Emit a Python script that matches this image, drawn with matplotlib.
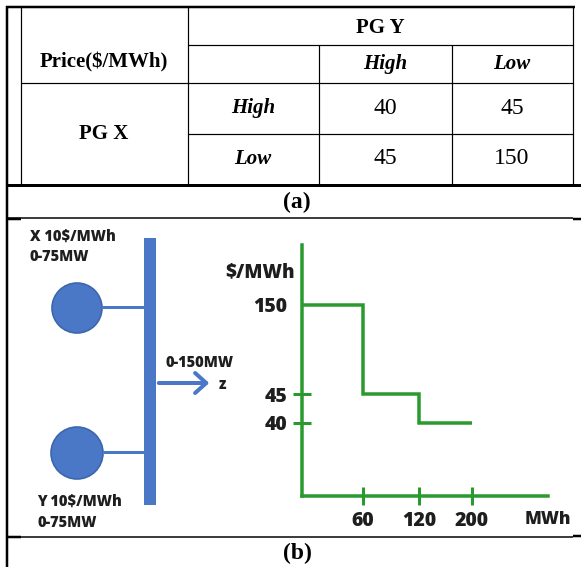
import matplotlib
matplotlib.use('Agg')
import matplotlib.pyplot as plt
import numpy as np
from matplotlib.patches import Circle, Rectangle, FancyArrowPatch

# ---------------- data ----------------
table_title = 'Price($/MWh)'
row_group = 'PG X'
col_group = 'PG Y'
x_levels = ['High', 'Low']          # PG X strategy (rows)
y_levels = ['High', 'Low']          # PG Y strategy (columns)
prices = [[40, 45],
          [45, 150]]

gen_x_label = ['X 10$/MWh', '0-75MW']
gen_y_label = ['Y 10$/MWh', '0-75MW']
load_label = '0-150MW'
load_name = 'z'

supply_edges = [0, 60, 120, 200]     # MWh
supply_prices = [150, 45, 40]        # $/MWh
x_ticks = [60, 120, 200]
y_ticks = [40, 45, 150]

# ---------------- figure ----------------
W, H = 581, 567
fig = plt.figure(figsize=(W / 100, H / 100), dpi=100)
ov = fig.add_axes([0, 0, 1, 1])
ov.set_xlim(0, W)
ov.set_ylim(H, 0)
ov.axis('off')

def pt(p):
    return p * 0.72

def hline(y, x0, x1, w=1.0):
    ov.plot([x0, x1], [y, y], color='black', lw=pt(w), solid_capstyle='butt')

def vline(x, y0, y1, w=1.0):
    ov.plot([x, x], [y0, y1], color='black', lw=pt(w), solid_capstyle='butt')

SERIF = ['Liberation Serif', 'DejaVu Serif']
SANS = ['Open Sans', 'DejaVu Sans']
HEAVY = 800

# table grid
hline(7, 6, 575, 2.5)
vline(7, 6, 567, 2.5)
vline(21, 7, 184, 1.2)
vline(573, 7, 184, 1.2)
vline(188, 7, 184, 1.2)
hline(45, 188, 573, 1.2)
hline(83, 21, 573, 1.2)
hline(134, 188, 573, 1.2)
for xv in (319, 452):
    vline(xv, 45, 184, 1.2)
hline(185, 7, 581, 3)
hline(218, 7, 573, 1.5)
hline(219, 573, 581, 2.5)
hline(219, 7, 21, 2.5)
hline(537, 7, 573, 1.5)
hline(536, 573, 581, 2.5)
hline(537, 7, 21, 2.5)

# table text
ov.text(104, 62, table_title, ha='center', va='center', family=SERIF,
        weight='bold', fontsize=15)
ov.text(380, 28, col_group, ha='center', va='center', family=SERIF,
        weight='bold', fontsize=15)
ov.text(104, 134, row_group, ha='center', va='center', family=SERIF,
        weight='bold', fontsize=15)
col_cx = [385, 512]
row_cy = [108, 159]
for j, lab in enumerate(y_levels):
    ov.text(col_cx[j], 64, lab, ha='center', va='center', family=SERIF,
            weight='bold', style='italic', fontsize=15)
for i, lab in enumerate(x_levels):
    ov.text(253, row_cy[i], lab, ha='center', va='center', family=SERIF,
            weight='bold', style='italic', fontsize=15)
    for j in range(len(y_levels)):
        ov.text(col_cx[j], row_cy[i], str(prices[i][j]), ha='center',
                va='center', family=SERIF, fontsize=17)

ov.text(297, 202, '(a)', ha='center', va='center', family=SERIF,
        weight='bold', fontsize=17)
ov.text(297, 553, '(b)', ha='center', va='center', family=SERIF,
        weight='bold', fontsize=17)

# ---------------- network diagram ----------------
blue = '#4a78c6'
blue_edge = '#3d66ad'
ov.add_patch(Rectangle((144, 238), 12, 267, facecolor=blue, edgecolor='none'))
ov.add_patch(Circle((77, 308), 25, facecolor=blue, edgecolor=blue_edge, lw=1.2))
ov.add_patch(Circle((77, 453), 26, facecolor=blue, edgecolor=blue_edge, lw=1.2))
ov.plot([102, 145], [307, 307], color=blue, lw=pt(3), solid_capstyle='butt')
ov.plot([103, 145], [452, 452], color=blue, lw=pt(3), solid_capstyle='butt')
ov.add_patch(FancyArrowPatch((156, 383), (212, 383), arrowstyle='->,head_length=5,head_width=4.5',
                             color=blue, lw=pt(4), mutation_scale=1.6))

txt = '#1e1e1e'
ov.text(30, 237, gen_x_label[0], ha='left', va='center', family=SANS,
        weight=HEAVY, fontsize=10.5, color=txt)
ov.text(30, 257, gen_x_label[1], ha='left', va='center', family=SANS,
        weight=HEAVY, fontsize=10.5, color=txt)
ov.text(37, 502, gen_y_label[0], ha='left', va='center', family=SANS,
        weight=HEAVY, fontsize=10.5, color=txt)
ov.text(37, 523, gen_y_label[1], ha='left', va='center', family=SANS,
        weight=HEAVY, fontsize=10.5, color=txt)
ov.text(165, 363, load_label, ha='left', va='center', family=SANS,
        weight=HEAVY, fontsize=10.5, color=txt)
ov.text(219, 385, load_name, ha='left', va='center', family=SANS,
        weight=HEAVY, fontsize=10.5, color=txt)

# ---------------- supply step chart ----------------
green = '#2a9a2f'
ax = fig.add_axes([302 / W, 71 / H, 246 / W, 251 / H])
ax.set_facecolor('none')
xp, xf = [0, 60, 120, 200, 320], [0, 61, 117, 170, 246]
yp, yf = [0, 40, 45, 150, 210], [0, 73, 102, 191, 251]
ax.set_xscale('function', functions=(lambda v: np.interp(v, xp, xf),
                                     lambda v: np.interp(v, xf, xp)))
ax.set_yscale('function', functions=(lambda v: np.interp(v, yp, yf),
                                     lambda v: np.interp(v, yf, yp)))
ax.set_xlim(0, 320)
ax.set_ylim(0, 210)
ax.stairs(supply_prices, supply_edges, baseline=None, color=green, lw=pt(3.5))
for s in ('top', 'right'):
    ax.spines[s].set_visible(False)
for s in ('left', 'bottom'):
    ax.spines[s].set_color(green)
    ax.spines[s].set_linewidth(pt(3.5))
ax.set_xticks(x_ticks)
ax.set_yticks(y_ticks)
ax.set_xticklabels([str(v) for v in x_ticks])
ax.set_yticklabels([str(v) for v in y_ticks])
ax.minorticks_off()
ax.tick_params(direction='inout', length=13, width=pt(3), color=green,
               labelsize=14, labelcolor=txt, pad=4)
for lab in ax.get_xticklabels() + ax.get_yticklabels():
    lab.set_family(SANS)
    lab.set_weight(HEAVY)
ax.yaxis.get_major_ticks()[2].tick1line.set_visible(False)

ov.text(295, 272, '$/MWh', ha='right', va='center', family=SANS,
        weight=HEAVY, fontsize=13.5, color=txt)
ov.text(548, 519, 'MWh', ha='center', va='center', family=SANS,
        weight=HEAVY, fontsize=12.5, color=txt)

fig.savefig('out.png', dpi=100)
